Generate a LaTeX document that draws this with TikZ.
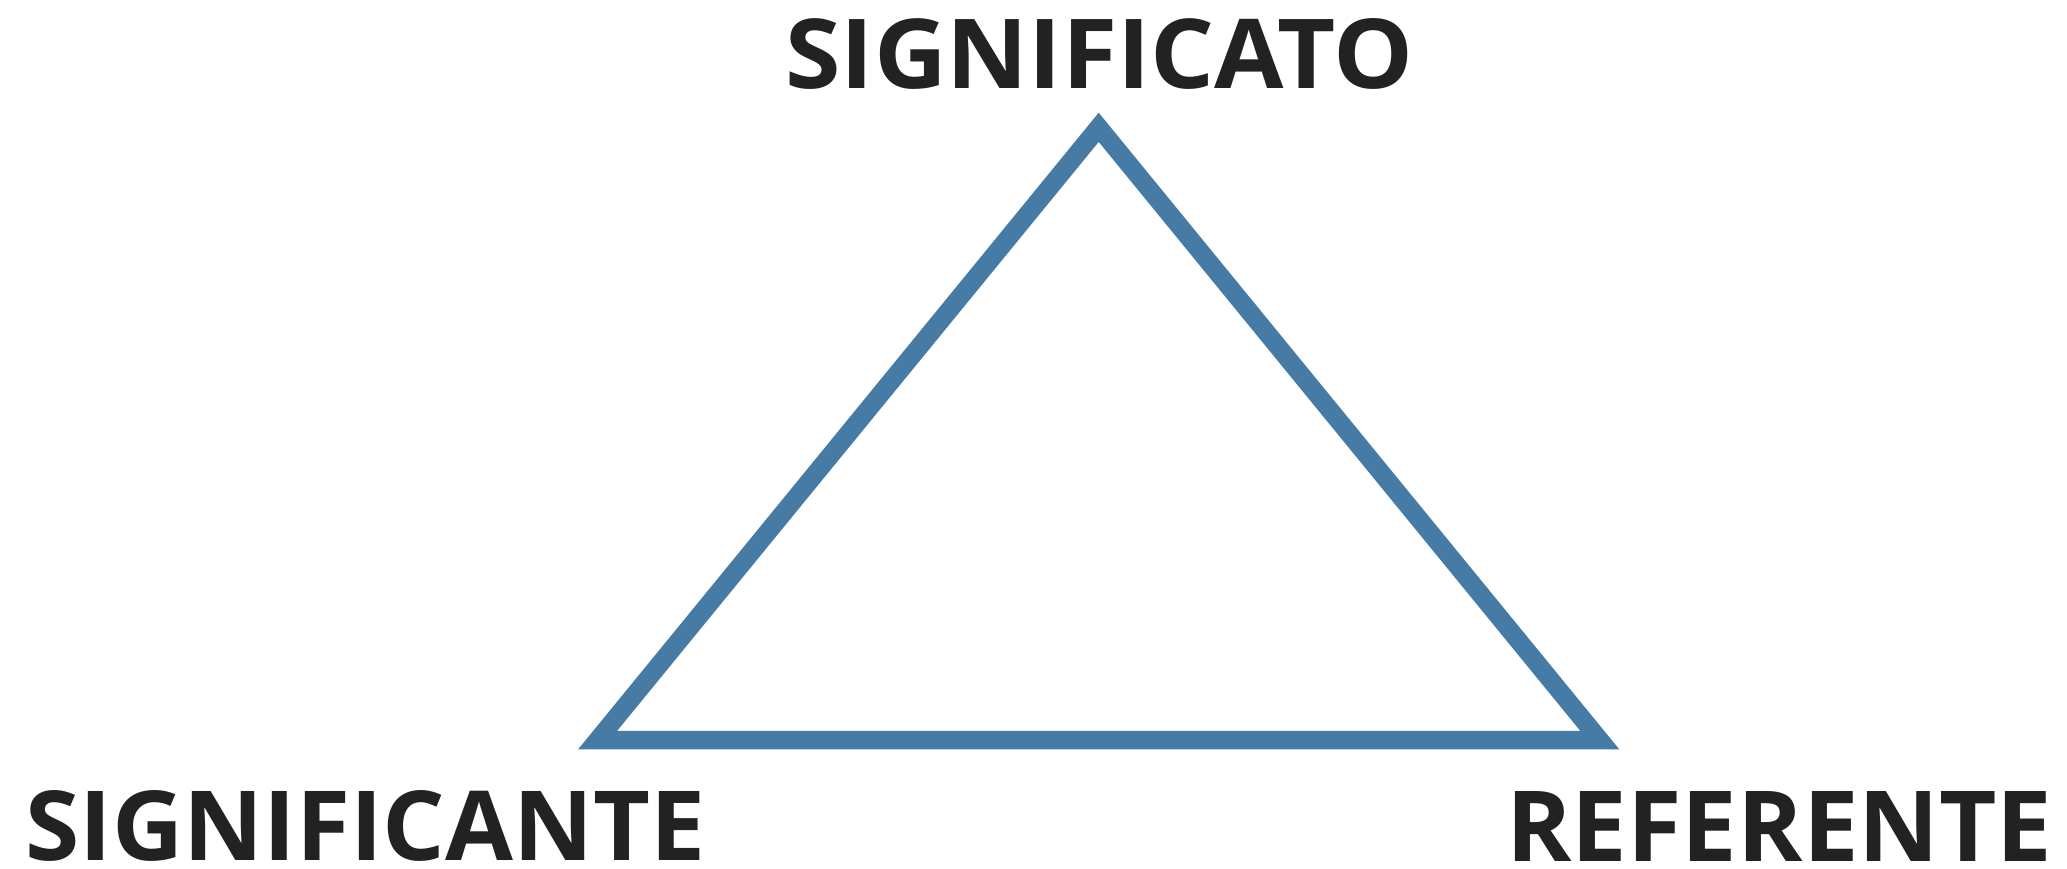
\documentclass[tikz,border=0pt]{standalone}
\usepackage{fontspec}
\setmainfont{Open Sans}
\usepackage{xcolor}
\usepackage{tikz}
\usetikzlibrary{positioning}
\definecolor{triblue}{RGB}{69,123,165}
\definecolor{labelgray}{RGB}{34,34,34}

\begin{document}
\begin{tikzpicture}[x=0.02cm, y=-0.02cm,
  vertex label/.style={text=labelgray, font=\bfseries, inner sep=0pt, anchor=south west},
  side/.style={draw=triblue, line width=0.37cm, miter limit=10, line join=miter}]
\useasboundingbox (0,0) rectangle (2067,869);
% corners of the triangle
\coordinate (apex) at (1098.7,127.3);
\coordinate (left) at (597.7,740);
\coordinate (right) at (1599.7,740);
\draw[side] (apex) -- (left) -- (right) -- cycle;
% labels: name / x / y / width / height / text
\newcommand{\vlabel}[6]{\node[vertex label] (#1) at (#2,#3) {\resizebox{#4}{#5}{#6}};}
\vlabel{signified}{785}{90}{12.56cm}{1.40cm}{SIGNIFICATO}
\vlabel{signifier}{25}{862}{13.60cm}{1.40cm}{SIGNIFICANTE}
\vlabel{referent}{1506}{862}{10.92cm}{1.40cm}{REFERENTE}
\end{tikzpicture}
\end{document}
